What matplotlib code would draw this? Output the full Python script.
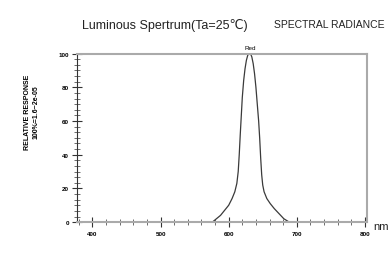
# Relative spectral response of a red LED, redrawn from a datasheet scan.

import matplotlib.pyplot as plt
from matplotlib.ticker import MultipleLocator

plt.rcParams['font.family'] = ['Liberation Sans', 'DejaVu Sans']

# wavelength (nm) and relative response (%)
wavelength = [576, 582, 588, 594, 600, 605, 609, 612, 614, 615.5, 617, 618.5, 620,
              622, 624, 626, 628, 630, 632, 634, 636, 638, 640, 642, 644, 645.5,
              647, 648.5, 650, 652, 656, 661, 667, 674, 681, 689]
response = [0, 2, 4, 7, 10, 14, 18, 23, 30, 40, 52, 63, 74,
            84, 91, 96, 99, 100, 100, 98, 94, 88, 80, 70, 60, 50,
            38, 28, 22, 18, 14, 11, 8, 5, 2, 0]

x_ticks = [400, 500, 600, 700, 800]
y_ticks = [0, 20, 40, 60, 80, 100]

fig = plt.figure(figsize=(3.92, 2.55), dpi=100)
ax = fig.add_axes([0.196, 0.125, 0.740, 0.661])

ax.plot(wavelength, response, color='#3a3a3a', lw=0.9)
ax.set_xlim(377, 803)
ax.set_ylim(0, 100)

ax.set_xticks(x_ticks)
ax.set_yticks(y_ticks)
ax.xaxis.set_minor_locator(MultipleLocator(20))
ax.yaxis.set_minor_locator(MultipleLocator(20 / 6))
ax.tick_params(axis='both', which='major', direction='inout', length=7, width=0.8,
               color='#333333', labelsize=4.5, pad=2)
ax.tick_params(axis='both', which='minor', direction='inout', length=5, width=0.6,
               color='#555555')
ax.tick_params(axis='x', which='major', pad=3)
for lab in ax.get_xticklabels() + ax.get_yticklabels():
    lab.set_fontweight('bold')

for side in ['top', 'right', 'bottom']:
    ax.spines[side].set_color('#aaaaaa')
    ax.spines[side].set_linewidth(1.5)
ax.spines['left'].set_color('#333333')
ax.spines['left'].set_linewidth(0.8)

ax.text(631, 102, 'Red', ha='center', va='bottom', fontsize=4.5)
ax.set_ylabel('RELATIVE RESPONSE\n100%=1.6~2e-05', fontsize=5,
              linespacing=1.3, fontweight='bold')
ax.yaxis.set_label_coords(-0.13, 0.66)

fig.text(0.42, 0.9, 'Luminous Spertrum(Ta=25\u2103)', ha='center', va='center',
         fontsize=9, color='#222222')
fig.text(0.70, 0.9, 'SPECTRAL RADIANCE', ha='left', va='center',
         fontsize=7.5, color='#222222')
fig.text(0.952, 0.11, 'nm', ha='left', va='center', fontsize=8, color='#222222')

fig.savefig('out.png', dpi=100)
